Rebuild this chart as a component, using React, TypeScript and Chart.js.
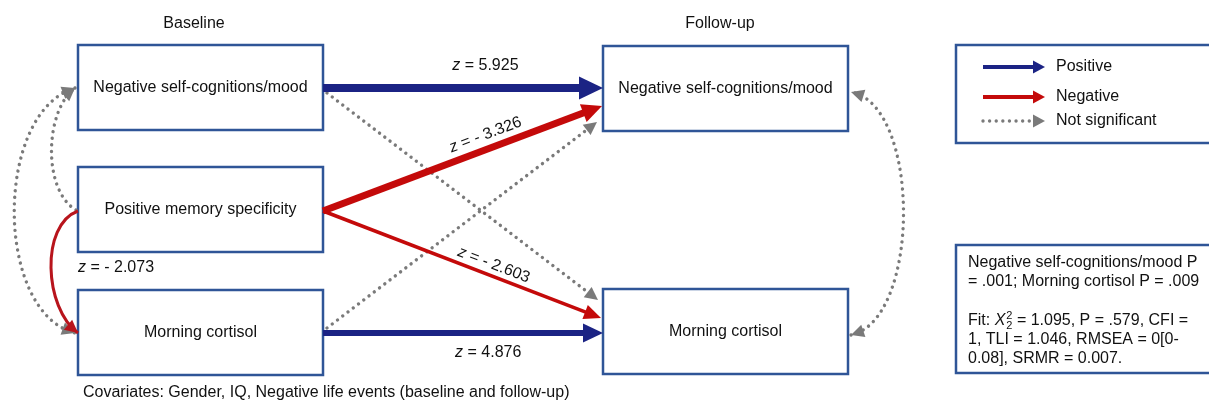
import React, { useEffect, useRef } from "react";
import { Chart, registerables } from "chart.js";

Chart.register(...registerables);

// ---------------- data ----------------
const waveLabels = ["Baseline", "Follow-up"];
const variables = ["Negative self-cognitions/mood", "Positive memory specificity", "Morning cortisol"];
const baselineVars = [0, 1, 2];
const followUpVars = [0, 2];
const pathFrom = [0, 1, 1, 2, 0, 2]; // baseline variable index
const pathTo = [0, 0, 2, 2, 2, 0]; // follow-up variable index
const pathZ = [5.925, -3.326, -2.603, 4.876, NaN, NaN];
const pathSignificant = [true, true, true, true, false, false];
const covarianceZ = [-2.073];
const legendLabels = ["Positive", "Negative", "Not significant"];
const noteLines = ["Negative self-cognitions/mood P", "= .001; Morning cortisol P = .009"];
const fitLines = [" = 1.095, P = .579, CFI =", "1, TLI = 1.046, RMSEA = 0[0-", "0.08], SRMR = 0.007."];
const covariatesNote = "Covariates: Gender, IQ, Negative life events (baseline and follow-up)";

// ---------------- layout / style ----------------
const W = 1209;
const H = 403;
const FONT = '"Liberation Sans", Arial, Helvetica, sans-serif';
const NAVY = "#1b2384";
const RED = "#c40a0a";
const CURVE_RED = "#b8141c";
const GRAY = "#7a7a7a";
const BOX = "#2f5597";

const waveX = [194, 720];
const waveY = 24;
const boxLeft = [78, 603];
const boxW = 245;
const boxH = 85;
const baselineTop = [45, 167, 290];
const followTop = [46, 289];

// anchor points of the straight paths [fromX, fromY, tipX, tipY]
const pathGeom = [
  [323, 88, 603, 88],
  [323, 211, 602, 106],
  [323, 211, 601, 318],
  [323, 333, 603, 333],
  [327, 93, 598, 300],
  [327, 328, 597, 122],
];
const pathStyle = [
  { color: NAVY, width: 8, head: 24, half: 11.5 },
  { color: RED, width: 7, head: 20, half: 9.5 },
  { color: RED, width: 3.5, head: 17, half: 7.5 },
  { color: NAVY, width: 6, head: 20, half: 9.5 },
  { color: GRAY, width: 3.4, head: 13, half: 6.5 },
  { color: GRAY, width: 3.4, head: 13, half: 6.5 },
];
// label position along path (t) and perpendicular offset (negative = above)
const labelPos = [
  { t: 0.58, off: -22 },
  { t: 0.6, off: -14 },
  { t: 0.6, off: -11 },
  { t: 0.59, off: 20 },
];

const DOT = [0.01, 6.6];

function fmtZ(z: number) {
  return " = " + (z < 0 ? "- " + Math.abs(z).toFixed(3) : z.toFixed(3));
}

function drawHead(ctx: CanvasRenderingContext2D, x: number, y: number, ang: number, len: number, half: number, color: string) {
  ctx.save();
  ctx.translate(x, y);
  ctx.rotate(ang);
  ctx.setLineDash([]);
  ctx.fillStyle = color;
  ctx.beginPath();
  ctx.moveTo(0, 0);
  ctx.lineTo(-len, -half);
  ctx.lineTo(-len, half);
  ctx.closePath();
  ctx.fill();
  ctx.restore();
}

function drawZ(ctx: CanvasRenderingContext2D, x: number, y: number, ang: number, z: number, align: "center" | "left") {
  ctx.save();
  ctx.translate(x, y);
  ctx.rotate(ang);
  ctx.textBaseline = "middle";
  ctx.textAlign = "left";
  ctx.fillStyle = "#111";
  const rest = fmtZ(z);
  ctx.font = `italic 16px ${FONT}`;
  const wz = ctx.measureText("z").width;
  ctx.font = `16px ${FONT}`;
  const wr = ctx.measureText(rest).width;
  const x0 = align === "center" ? -(wz + wr) / 2 : 0;
  ctx.font = `italic 16px ${FONT}`;
  ctx.fillText("z", x0, 0);
  ctx.font = `16px ${FONT}`;
  ctx.fillText(rest, x0 + wz, 0);
  ctx.restore();
}

type Pt = [number, number];
function bezierPoint(p: Pt[], t: number): Pt {
  const u = 1 - t;
  return [
    u * u * u * p[0][0] + 3 * u * u * t * p[1][0] + 3 * u * t * t * p[2][0] + t * t * t * p[3][0],
    u * u * u * p[0][1] + 3 * u * u * t * p[1][1] + 3 * u * t * t * p[2][1] + t * t * t * p[3][1],
  ];
}

// curved covariances / residual correlations (bezier control points)
const curves: { pts: Pt[]; color: string; dotted: boolean; width: number; headStart: boolean; headEnd: boolean }[] = [
  { pts: [[76, 210], [42, 190], [45, 110], [75, 88]], color: GRAY, dotted: true, width: 3.4, headStart: false, headEnd: true },
  { pts: [[75, 88], [-6, 112], [-6, 312], [75, 333]], color: GRAY, dotted: true, width: 3.4, headStart: true, headEnd: true },
  { pts: [[78, 211], [40, 225], [44, 308], [78, 333]], color: CURVE_RED, dotted: false, width: 3, headStart: false, headEnd: true },
  { pts: [[851, 335], [921, 320], [921, 105], [851, 92]], color: GRAY, dotted: true, width: 3.4, headStart: true, headEnd: true },
];

export default function App() {
  const ref = useRef<HTMLCanvasElement | null>(null);

  useEffect(() => {
    const canvas = ref.current;
    if (!canvas) return;

    const datasets = pathFrom.map((_, i) => {
      const [fx, fy, tx, ty] = pathGeom[i];
      const st = pathStyle[i];
      const len = Math.hypot(tx - fx, ty - fy);
      const back = st.head - 2;
      const ex = tx - ((tx - fx) / len) * back;
      const ey = ty - ((ty - fy) / len) * back;
      return {
        label: `path${i}`,
        data: [
          { x: fx, y: fy },
          { x: ex, y: ey },
        ],
        showLine: true,
        borderColor: st.color,
        backgroundColor: st.color,
        borderWidth: st.width,
        borderDash: pathSignificant[i] ? [] : DOT,
        borderCapStyle: pathSignificant[i] ? "butt" : "round",
        pointRadius: 0,
        clip: false,
      } as any;
    });

    const diagram = {
      id: "diagram",
      beforeDatasetsDraw(chart: any) {
        const ctx: CanvasRenderingContext2D = chart.ctx;
        const xs = chart.scales.x;
        const ys = chart.scales.y;
        const px = (v: number) => xs.getPixelForValue(v);
        const py = (v: number) => ys.getPixelForValue(v);
        ctx.save();
        ctx.fillStyle = "#fff";
        ctx.fillRect(0, 0, chart.width, chart.height);

        // wave titles
        ctx.fillStyle = "#111";
        ctx.font = `16px ${FONT}`;
        ctx.textAlign = "center";
        ctx.textBaseline = "middle";
        waveLabels.forEach((w, i) => ctx.fillText(w, px(waveX[i]), py(waveY)));

        // boxes
        const box = (x: number, y: number, w: number, h: number) => {
          ctx.lineWidth = 2.5;
          ctx.strokeStyle = BOX;
          ctx.fillStyle = "#fff";
          ctx.fillRect(px(x), py(y), px(x + w) - px(x), py(y + h) - py(y));
          ctx.strokeRect(px(x), py(y), px(x + w) - px(x), py(y + h) - py(y));
        };
        const nodeText = (txt: string, x: number, y: number) => {
          ctx.fillStyle = "#111";
          ctx.font = `16px ${FONT}`;
          ctx.textAlign = "center";
          ctx.textBaseline = "middle";
          ctx.fillText(txt, px(x + boxW / 2), py(y + boxH / 2));
        };
        baselineVars.forEach((v, i) => {
          box(boxLeft[0], baselineTop[i], boxW, boxH);
          nodeText(variables[v], boxLeft[0], baselineTop[i]);
        });
        followUpVars.forEach((v, i) => {
          box(boxLeft[1], followTop[i], boxW, boxH);
          nodeText(variables[v], boxLeft[1], followTop[i]);
        });

        // legend box & note box
        box(956, 45, 270, 98);
        box(956, 245, 270, 128);
        ctx.restore();
      },
      afterDatasetsDraw(chart: any) {
        const ctx: CanvasRenderingContext2D = chart.ctx;
        const xs = chart.scales.x;
        const ys = chart.scales.y;
        const px = (v: number) => xs.getPixelForValue(v);
        const py = (v: number) => ys.getPixelForValue(v);
        ctx.save();

        // straight path heads & labels
        pathFrom.forEach((_, i) => {
          const [fx, fy, tx, ty] = pathGeom[i];
          const st = pathStyle[i];
          const ang = Math.atan2(py(ty) - py(fy), px(tx) - px(fx));
          drawHead(ctx, px(tx), py(ty), ang, st.head, st.half, st.color);
          if (pathSignificant[i]) {
            const lp = labelPos[i];
            const lx = px(fx) + (px(tx) - px(fx)) * lp.t;
            const ly = py(fy) + (py(ty) - py(fy)) * lp.t;
            const nx = Math.sin(ang);
            const ny = Math.cos(ang);
            drawZ(ctx, lx - nx * lp.off, ly + ny * lp.off, ang, pathZ[i], "center");
          }
        });

        // curves
        curves.forEach((c) => {
          const p = c.pts.map(([x, y]) => [px(x), py(y)] as Pt);
          ctx.save();
          ctx.strokeStyle = c.color;
          ctx.lineWidth = c.width;
          ctx.setLineDash(c.dotted ? DOT : []);
          ctx.lineCap = c.dotted ? "round" : "butt";
          const s = bezierPoint(p, 0.04);
          ctx.beginPath();
          ctx.moveTo(p[0][0], p[0][1]);
          ctx.bezierCurveTo(p[1][0], p[1][1], p[2][0], p[2][1], p[3][0], p[3][1]);
          ctx.stroke();
          ctx.restore();
          const hl = 13;
          const hh = 6.5;
          if (c.headEnd) {
            const q = bezierPoint(p, 0.96);
            drawHead(ctx, p[3][0], p[3][1], Math.atan2(p[3][1] - q[1], p[3][0] - q[0]), hl, hh, c.color);
          }
          if (c.headStart) {
            drawHead(ctx, p[0][0], p[0][1], Math.atan2(p[0][1] - s[1], p[0][0] - s[0]), hl, hh, c.color);
          }
        });

        // covariance label
        drawZ(ctx, px(78), py(268), 0, covarianceZ[0], "left");

        // legend
        const legColors = [NAVY, RED, GRAY];
        const legY = [67, 97, 121];
        legendLabels.forEach((lab, i) => {
          const y = py(legY[i]);
          ctx.save();
          ctx.strokeStyle = legColors[i];
          ctx.lineWidth = i === 2 ? 3.4 : 4;
          ctx.setLineDash(i === 2 ? DOT : []);
          ctx.lineCap = i === 2 ? "round" : "butt";
          ctx.beginPath();
          ctx.moveTo(px(983), y);
          ctx.lineTo(px(1036), y);
          ctx.stroke();
          ctx.restore();
          drawHead(ctx, px(1045), y, 0, 12, 6.5, legColors[i]);
          ctx.fillStyle = "#111";
          ctx.font = `16px ${FONT}`;
          ctx.textAlign = "left";
          ctx.textBaseline = "middle";
          ctx.fillText(lab, px(1056), y);
        });

        // notes
        ctx.fillStyle = "#111";
        ctx.font = `16px ${FONT}`;
        ctx.textAlign = "left";
        ctx.textBaseline = "middle";
        const nx0 = px(968);
        noteLines.forEach((t, i) => ctx.fillText(t, nx0, py(263 + i * 19)));
        const fy0 = py(321);
        let cx = nx0;
        ctx.fillText("Fit: ", cx, fy0);
        cx += ctx.measureText("Fit: ").width;
        ctx.font = `italic 16px ${FONT}`;
        ctx.fillText("X", cx, fy0);
        cx += ctx.measureText("X").width + 1;
        ctx.font = `11px ${FONT}`;
        ctx.fillText("2", cx, fy0 - 5);
        ctx.fillText("2", cx, fy0 + 5);
        cx += ctx.measureText("2").width;
        ctx.font = `16px ${FONT}`;
        ctx.fillText(fitLines[0], cx, fy0);
        ctx.fillText(fitLines[1], nx0, py(340));
        ctx.fillText(fitLines[2], nx0, py(359));

        // covariates
        ctx.fillText(covariatesNote, px(83), py(393));
        ctx.restore();
      },
    };

    const chart = new Chart(canvas, {
      type: "scatter",
      data: { datasets },
      options: {
        responsive: false,
        animation: false,
        events: [],
        layout: { padding: 0 },
        plugins: { legend: { display: false }, tooltip: { enabled: false } },
        scales: {
          x: { type: "linear", min: 0, max: W, display: false },
          y: { type: "linear", min: 0, max: H, reverse: true, display: false },
        },
      },
      plugins: [diagram as any],
    });
    return () => chart.destroy();
  }, []);

  return (
    <div style={{ position: "absolute", left: 0, top: 0, width: W, height: H }}>
      <canvas ref={ref} width={W} height={H} style={{ display: "block", width: W, height: H }} />
    </div>
  );
}
